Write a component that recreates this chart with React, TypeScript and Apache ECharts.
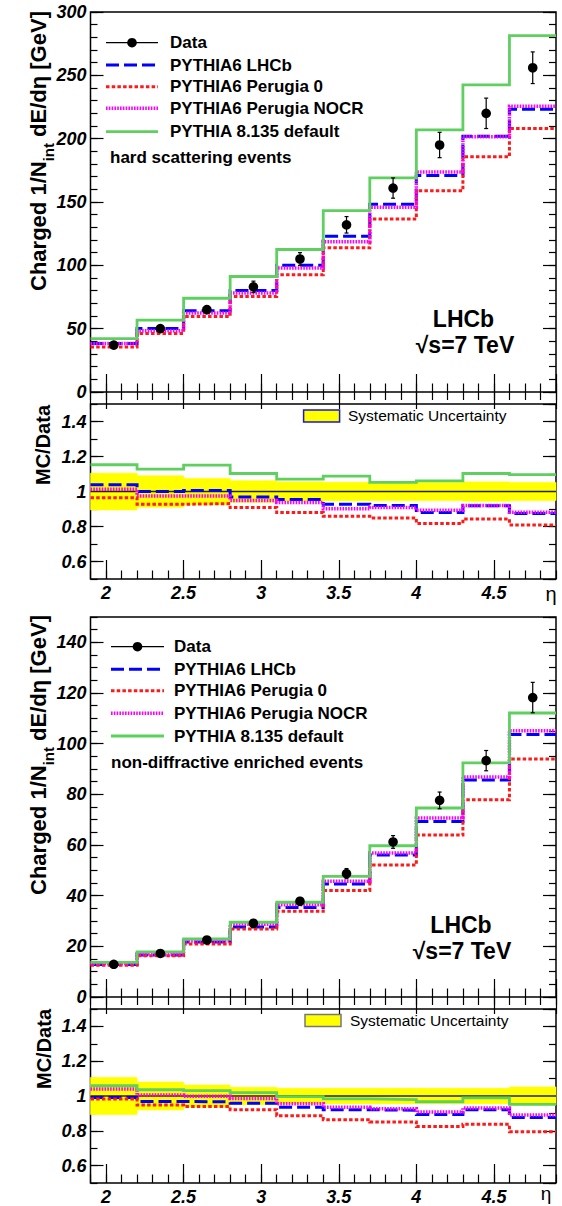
import React, { useEffect, useRef } from "react";
import * as echarts from "echarts";

// ---------- data ----------
const etaEdges = [1.9, 2.2, 2.5, 2.8, 3.1, 3.4, 3.7, 4.0, 4.3, 4.6, 4.9];

// hard scattering events
const hardData = [37, 50, 65, 83, 105, 132, 161, 195, 220, 256];
const hardDataErr = [2, 2.5, 3, 4.5, 5, 6.5, 8, 10, 12, 12.5];
const hardLHCb = [38.2, 50.1, 64.2, 80.1, 100, 123, 148.3, 171, 202, 223.3];
const hardPerugia0 = [35.5, 46.2, 59.7, 75.3, 92.6, 113.8, 136.6, 158.9, 185.7, 208];
const hardNOCR = [38.2, 48.3, 62.3, 78.2, 97.9, 118.6, 145.9, 173.7, 201.6, 225.5];
const hardPy8 = [42.2, 56.8, 74, 91.2, 112.5, 143.2, 169, 206.9, 242.4, 281.4];

const hardSyst = [0.105, 0.09, 0.075, 0.062, 0.055, 0.053, 0.052, 0.052, 0.055, 0.052];
const hardRatioLHCb = [1.038, 1.0, 1.006, 0.969, 0.954, 0.927, 0.92, 0.88, 0.918, 0.874];
const hardRatioPerugia0 = [0.964, 0.927, 0.931, 0.908, 0.88, 0.859, 0.849, 0.817, 0.843, 0.809];
const hardRatioNOCR = [1.013, 0.975, 0.975, 0.948, 0.937, 0.901, 0.908, 0.893, 0.92, 0.882];
const hardRatioPy8 = [1.153, 1.128, 1.151, 1.103, 1.071, 1.088, 1.052, 1.061, 1.103, 1.097];

// non-diffractive enriched events
const ndData = [12.9, 17.2, 22.5, 29.1, 37.8, 48.7, 61.2, 77.6, 93.3, 118.2];
const ndDataErr = [1, 1, 1.2, 1.5, 1.5, 2, 2.5, 3.3, 4, 6];
const ndLHCb = [12.8, 16.6, 21.7, 27.6, 35.3, 44.6, 56.1, 69.3, 85.7, 103.6];
const ndPerugia0 = [12.5, 16.3, 20.9, 26.8, 33.8, 42.0, 52.1, 63.9, 77.9, 93.9];
const ndNOCR = [13.2, 17.0, 22.1, 28.7, 36.4, 45.7, 56.8, 70.7, 86.8, 105.1];
const ndPy8 = [13.7, 17.8, 22.9, 29.5, 37.4, 47.6, 59.7, 74.6, 92.4, 112.1];

const ndSyst = [0.107, 0.08, 0.063, 0.05, 0.044, 0.044, 0.044, 0.044, 0.044, 0.052];
const ndRatioLHCb = [0.992, 0.969, 0.966, 0.958, 0.935, 0.921, 0.918, 0.893, 0.921, 0.877];
const ndRatioPerugia0 = [0.983, 0.948, 0.939, 0.921, 0.887, 0.864, 0.851, 0.824, 0.837, 0.795];
const ndRatioNOCR = [1.04, 1.006, 0.998, 0.985, 0.956, 0.935, 0.927, 0.908, 0.931, 0.891];
const ndRatioPy8 = [1.059, 1.036, 1.031, 1.019, 0.996, 0.983, 0.979, 0.967, 0.989, 0.952];

const legendLabels = ["Data", "PYTHIA6 LHCb", "PYTHIA6 Perugia 0", "PYTHIA6 Perugia NOCR", "PYTHIA 8.135 default"];

// ---------- styles / layout ----------
const FONT = "'Liberation Sans', Arial, Helvetica, sans-serif";
const ST = {
  lhcb: { color: "#0000ff", width: 3, type: [13, 5] as any },
  p0: { color: "#ff1a1a", width: 3, type: [3.5, 2.2] as any },
  nocr: { color: "#ff00ff", width: 3.5, type: [1.6, 1.2] as any },
  py8: { color: "#5fcf5f", width: 2.8, type: "solid" as any },
};
const GRID_LEFT = 90.5;
const GRID_WIDTH = 465.5;
const LAYOUT = [
  { top: 12, height: 380, kind: "main", ymax: 300, yMajor: 50, yMinor: 10, showMax: true },
  { top: 404, height: 175, kind: "ratio" },
  { top: 617, height: 380, kind: "main", ymax: 150, yMajor: 20, yMinor: 5, showMax: false },
  { top: 1009, height: 175, kind: "ratio" },
];

const etaCenters = etaEdges.slice(0, -1).map((e, i) => (e + etaEdges[i + 1]) / 2);
const stepData = (vals: number[]) => etaEdges.map((e, i) => [e, vals[Math.min(i, vals.length - 1)]]);
const fmt1 = (v: number) => String(Math.round(v * 10) / 10);

const tickLine = { color: "#000", width: 1.2 };

function buildAxes(p: any, gi: number) {
  const ratio = p.kind === "ratio";
  const xBase = { gridIndex: gi, type: "value", min: 1.9, max: 4.9, axisLine: { show: false }, splitLine: { show: false } };
  const xLabel = ratio
    ? { show: true, showMinLabel: false, showMaxLabel: false, margin: 5, fontFamily: FONT, fontSize: 18, fontWeight: "bold", fontStyle: "italic", color: "#000", formatter: fmt1 }
    : { show: false };
  const xs = [
    { ...xBase, position: "bottom", splitNumber: 6, axisTick: { show: true, inside: true, length: ratio ? 19 : 18, lineStyle: tickLine }, axisLabel: xLabel },
    { ...xBase, position: "top", splitNumber: 6, axisTick: { show: !ratio, inside: true, length: 17, lineStyle: tickLine }, axisLabel: { show: false } },
    { ...xBase, position: "bottom", interval: 0.1, axisTick: { show: true, inside: true, length: 8.5, lineStyle: tickLine }, axisLabel: { show: false } },
    { ...xBase, position: "top", interval: 0.1, axisTick: { show: !ratio, inside: true, length: 8, lineStyle: tickLine }, axisLabel: { show: false } },
  ];
  const yMin = ratio ? 0.5 : 0;
  const yMax = ratio ? 1.5 : p.ymax;
  const yBase = { gridIndex: gi, type: "value", min: yMin, max: yMax, axisLine: { show: false }, splitLine: { show: false } };
  const majorSpec = ratio ? { splitNumber: 5 } : { interval: p.yMajor };
  const minorInt = ratio ? 0.1 : p.yMinor;
  const yLabel = {
    show: true, margin: 4, showMinLabel: !ratio, showMaxLabel: ratio ? false : p.showMax,
    fontFamily: FONT, fontSize: 18, fontWeight: "bold", fontStyle: "italic", color: "#000",
    formatter: ratio ? fmt1 : (v: number) => String(v),
  };
  const ys = [
    { ...yBase, ...majorSpec, position: "left", axisTick: { show: true, inside: true, length: 13, lineStyle: tickLine }, axisLabel: yLabel },
    { ...yBase, ...majorSpec, position: "right", axisTick: { show: true, inside: true, length: 13, lineStyle: tickLine }, axisLabel: { show: false } },
    { ...yBase, interval: minorInt, position: "left", axisTick: { show: true, inside: true, length: 7, lineStyle: tickLine }, axisLabel: { show: false } },
    { ...yBase, interval: minorInt, position: "right", axisTick: { show: true, inside: true, length: 7, lineStyle: tickLine }, axisLabel: { show: false } },
  ];
  return { xs, ys };
}

function stepSeries(gi: number, vals: number[], st: any) {
  return {
    type: "line", xAxisIndex: gi * 4, yAxisIndex: gi * 4, data: stepData(vals), step: "end",
    symbol: "none", silent: true, z: 3,
    lineStyle: { color: st.color, width: st.width, type: st.type, cap: "butt", join: "miter" },
  };
}

function dataSeries(gi: number, vals: number[], errs: number[]) {
  return {
    type: "custom", xAxisIndex: gi * 4, yAxisIndex: gi * 4, z: 5, silent: true, clip: false,
    data: etaCenters.map((c, i) => [c, vals[i], errs[i]]),
    encode: { x: 0, y: 1 },
    renderItem: (_p: any, api: any) => {
      const x = api.value(0), y = api.value(1), e = api.value(2);
      const c = api.coord([x, y]);
      const t = api.coord([x, y + e]);
      const b = api.coord([x, y - e]);
      const ls = { stroke: "#000", lineWidth: 1.2 };
      return {
        type: "group",
        children: [
          { type: "line", shape: { x1: c[0], y1: t[1], x2: c[0], y2: b[1] }, style: ls },
          { type: "line", shape: { x1: c[0] - 2, y1: t[1], x2: c[0] + 2, y2: t[1] }, style: ls },
          { type: "line", shape: { x1: c[0] - 2, y1: b[1], x2: c[0] + 2, y2: b[1] }, style: ls },
          { type: "circle", shape: { cx: c[0], cy: c[1], r: 4.8 }, style: { fill: "#000" } },
        ],
      };
    },
  };
}

function bandSeries(gi: number, errs: number[]) {
  return {
    type: "custom", xAxisIndex: gi * 4, yAxisIndex: gi * 4, z: 1, silent: true,
    data: etaEdges.slice(0, -1).map((lo, i) => [lo, etaEdges[i + 1], 1, errs[i]]),
    encode: { x: [0, 1], y: 2 },
    renderItem: (_p: any, api: any) => {
      const a = api.coord([api.value(0), 1 + api.value(3)]);
      const b = api.coord([api.value(1), 1 - api.value(3)]);
      return {
        type: "rect",
        shape: { x: a[0], y: a[1], width: b[0] - a[0], height: b[1] - a[1] },
        style: { fill: "#ffff00", stroke: "#ffff00", lineWidth: 0.6 },
      };
    },
  };
}

function refLine(gi: number) {
  return {
    type: "line", xAxisIndex: gi * 4, yAxisIndex: gi * 4, z: 2, silent: true, symbol: "none",
    data: [[1.9, 1], [4.9, 1]], lineStyle: { color: "#222", width: 1.5 },
  };
}

// ---------- graphic helpers ----------
const txt = (x: number, y: number, text: string, size: number, extra: any = {}) => ({
  type: "text", x, y, silent: true,
  style: { text, fontFamily: FONT, fontSize: size, fontWeight: "bold", fill: "#000", align: "left", verticalAlign: "middle", ...extra },
});
const seg = (x1: number, y1: number, x2: number, y2: number, st: any) => ({
  type: "line", silent: true, shape: { x1, y1, x2, y2 }, style: st,
});

function legendBlock(x1: number, x2: number, tx: number, rows: number[], note: string, noteX: number, noteY: number) {
  const styles = [null, ST.lhcb, ST.p0, ST.nocr, ST.py8];
  const els: any[] = [];
  rows.forEach((y, i) => {
    const s: any = styles[i];
    if (!s) {
      els.push(seg(x1, y, x2, y, { stroke: "#000", lineWidth: 1.2 }));
      els.push({ type: "circle", silent: true, shape: { cx: (x1 + x2) / 2, cy: y, r: 4.8 }, style: { fill: "#000" } });
    } else {
      els.push(seg(x1, y, x2, y, { stroke: s.color, lineWidth: s.width, lineDash: Array.isArray(s.type) ? s.type : null, lineCap: "butt" }));
    }
    els.push(txt(tx, y, legendLabels[i], 17));
  });
  els.push(txt(noteX, noteY, note, 17));
  return els;
}

function yTitle(x: number, y: number) {
  return {
    type: "text", x, y, rotation: Math.PI / 2, silent: true,
    style: {
      text: "{m|Charged 1/N}{s|int}{m| dE/dη [GeV]}",
      align: "center", verticalAlign: "middle", fill: "#000",
      rich: {
        m: { fontFamily: FONT, fontSize: 22, fontWeight: "bold", fill: "#000" },
        s: { fontFamily: FONT, fontSize: 15, fontWeight: "bold", fill: "#000", padding: [20, 0, 0, 0] },
      },
    },
  };
}

function systLegend(bx: number, by: number, border: string, tx: number, ty: number) {
  return [
    { type: "rect", silent: true, shape: { x: bx, y: by, width: 36, height: 12 }, style: { fill: "#ffff00", stroke: border, lineWidth: 1.5 } },
    txt(tx, ty, "Systematic Uncertainty", 15.5, { fontWeight: "normal" }),
  ];
}

export default function App() {
  const ref = useRef<HTMLDivElement>(null);
  useEffect(() => {
    if (!ref.current) return;
    const chart = echarts.init(ref.current, undefined, { renderer: "svg" });

    const grids: any[] = [];
    const xAxis: any[] = [];
    const yAxis: any[] = [];
    LAYOUT.forEach((p, gi) => {
      grids.push({ left: GRID_LEFT, width: GRID_WIDTH, top: p.top, height: p.height, show: true, borderColor: "#000", borderWidth: 1.5, backgroundColor: "transparent", containLabel: false });
      const { xs, ys } = buildAxes(p, gi);
      xAxis.push(...xs);
      yAxis.push(...ys);
    });

    const series: any[] = [
      // panel 0: hard scattering
      stepSeries(0, hardLHCb, ST.lhcb),
      stepSeries(0, hardPerugia0, ST.p0),
      stepSeries(0, hardNOCR, ST.nocr),
      stepSeries(0, hardPy8, ST.py8),
      dataSeries(0, hardData, hardDataErr),
      // panel 1: ratio
      bandSeries(1, hardSyst),
      refLine(1),
      stepSeries(1, hardRatioLHCb, ST.lhcb),
      stepSeries(1, hardRatioPerugia0, ST.p0),
      stepSeries(1, hardRatioNOCR, ST.nocr),
      stepSeries(1, hardRatioPy8, ST.py8),
      // panel 2: non-diffractive
      stepSeries(2, ndLHCb, ST.lhcb),
      stepSeries(2, ndPerugia0, ST.p0),
      stepSeries(2, ndNOCR, ST.nocr),
      stepSeries(2, ndPy8, ST.py8),
      dataSeries(2, ndData, ndDataErr),
      // panel 3: ratio
      bandSeries(3, ndSyst),
      refLine(3),
      stepSeries(3, ndRatioLHCb, ST.lhcb),
      stepSeries(3, ndRatioPerugia0, ST.p0),
      stepSeries(3, ndRatioNOCR, ST.nocr),
      stepSeries(3, ndRatioPy8, ST.py8),
    ];

    const graphic: any[] = [
      ...legendBlock(106, 158, 170, [42.7, 65, 86.7, 108.3, 131.7], "hard scattering events", 110, 157.7),
      ...legendBlock(111, 164, 174, [646.7, 669.3, 690.7, 713.3, 736], "non-diffractive enriched events", 111, 762.7),
      txt(463.5, 319, "LHCb", 23, { align: "center" }),
      txt(465, 345, "√s=7 TeV", 23, { align: "center" }),
      txt(461, 925, "LHCb", 23, { align: "center" }),
      txt(462, 951, "√s=7 TeV", 23, { align: "center" }),
      yTitle(38, 151),
      yTitle(38, 755),
      { type: "text", x: 43, y: 445, rotation: Math.PI / 2, silent: true, style: { text: "MC/Data", fontFamily: FONT, fontSize: 20, fontWeight: "bold", fill: "#000", align: "center", verticalAlign: "middle" } },
      { type: "text", x: 44, y: 1049, rotation: Math.PI / 2, silent: true, style: { text: "MC/Data", fontFamily: FONT, fontSize: 20, fontWeight: "bold", fill: "#000", align: "center", verticalAlign: "middle" } },
      ...systLegend(303.6, 410, "#1a1acc", 348, 415.7),
      ...systLegend(305, 1014.5, "#777", 350, 1020.5),
      txt(551, 594, "η", 20, { align: "center", fontWeight: "normal" }),
      txt(546, 1193, "η", 19, { align: "center", fontWeight: "normal" }),
    ];

    chart.setOption({
      animation: false,
      backgroundColor: "#fff",
      grid: grids,
      xAxis,
      yAxis,
      series,
      graphic,
    });
    return () => chart.dispose();
  }, []);
  return <div ref={ref} style={{ position: "absolute", left: 0, top: 0, width: 562, height: 1206 }} />;
}
